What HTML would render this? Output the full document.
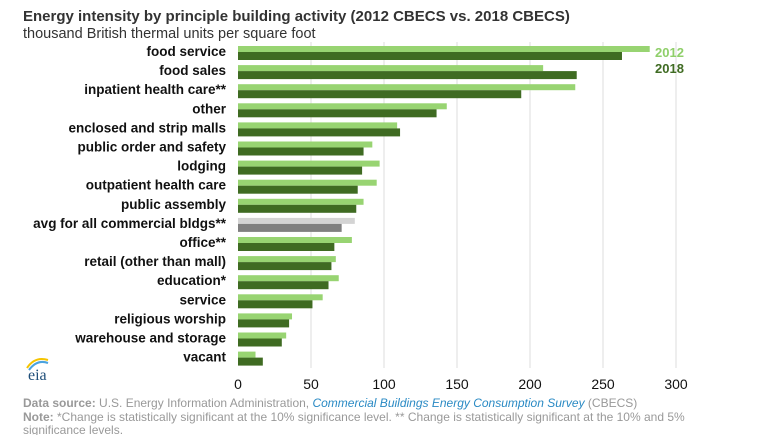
<!DOCTYPE html>
<html><head><style>
body{margin:0;background:#fff;width:761px;height:435px;overflow:hidden;font-family:"Liberation Sans",Arial,sans-serif}
</style></head><body>
<svg width="761" height="435" xmlns="http://www.w3.org/2000/svg" font-family="Liberation Sans, Arial, sans-serif">
<text x="23" y="21" font-size="15" font-weight="bold" fill="#333">Energy intensity by principle building activity (2012 CBECS vs. 2018 CBECS)</text>
<text x="23" y="38" font-size="14.5" fill="#333">thousand British thermal units per square foot</text>
<g stroke="#ddd" stroke-width="1">
<line x1="311" y1="42" x2="311" y2="368"/><line x1="384" y1="42" x2="384" y2="368"/>
<line x1="457" y1="42" x2="457" y2="368"/><line x1="530" y1="42" x2="530" y2="368"/>
<line x1="603" y1="42" x2="603" y2="368"/><line x1="676" y1="42" x2="676" y2="368"/>
</g>
<g id="bars"></g>
<g font-size="13.5" font-weight="bold" fill="#111" text-anchor="end" id="labels"></g>
<text x="655" y="57" font-size="13" font-weight="bold" fill="#8fcf6a">2012</text>
<text x="655" y="73" font-size="13" font-weight="bold" fill="#3f6b22">2018</text>
<g font-size="14" fill="#111" text-anchor="middle">
<text x="238" y="389">0</text><text x="311" y="389">50</text><text x="384" y="389">100</text>
<text x="457" y="389">150</text><text x="530" y="389">200</text><text x="603" y="389">250</text><text x="676" y="389">300</text>
</g>
<text x="28" y="380" font-size="16" font-family="Liberation Serif, serif" fill="#1f4e79">eia</text>
<path d="M27 368 Q35 356 48 360" stroke="#f5c400" stroke-width="2" fill="none"/>
<path d="M29 370 Q37 359 48 363" stroke="#4aa3df" stroke-width="2" fill="none"/>
<text x="23" y="407" font-size="12" fill="#999"><tspan font-weight="bold">Data source:</tspan> U.S. Energy Information Administration, <tspan fill="#2a8ac4" font-style="italic">Commercial Buildings Energy Consumption Survey</tspan> (CBECS)</text>
<text x="23" y="421" font-size="12" fill="#999"><tspan font-weight="bold">Note:</tspan> *Change is statistically significant at the 10% significance level. ** Change is statistically significant at the 10% and 5%</text>
<text x="23" y="434" font-size="12" fill="#999">significance levels.</text>
</svg>
<script>
var d=[["food service",282,263],["food sales",209,232],["inpatient health care**",231,194],["other",143,136],["enclosed and strip malls",109,111],["public order and safety",92,86],["lodging",97,85],["outpatient health care",95,82],["public assembly",86,81],["avg for all commercial bldgs**",80,71],["office**",78,66],["retail (other than mall)",67,64],["education*",69,62],["service",58,51],["religious worship",37,35],["warehouse and storage",33,30],["vacant",12,17]];
var ns="http://www.w3.org/2000/svg",b=document.getElementById("bars"),l=document.getElementById("labels");
d.forEach(function(r,i){var c=52+i*19.1;var avg=i==9;
function R(y,h,v,col){var e=document.createElementNS(ns,"rect");e.setAttribute("x",238);e.setAttribute("y",y);e.setAttribute("height",h);e.setAttribute("width",v*1.46);e.setAttribute("fill",col);b.appendChild(e);}
R(c-6,6,r[1],avg?"#d4d4d4":"#98d472");R(c,8,r[2],avg?"#808080":"#3f6b22");
var t=document.createElementNS(ns,"text");t.setAttribute("x",226);t.setAttribute("y",c+4);t.textContent=r[0];l.appendChild(t);});
</script>
</body></html>
